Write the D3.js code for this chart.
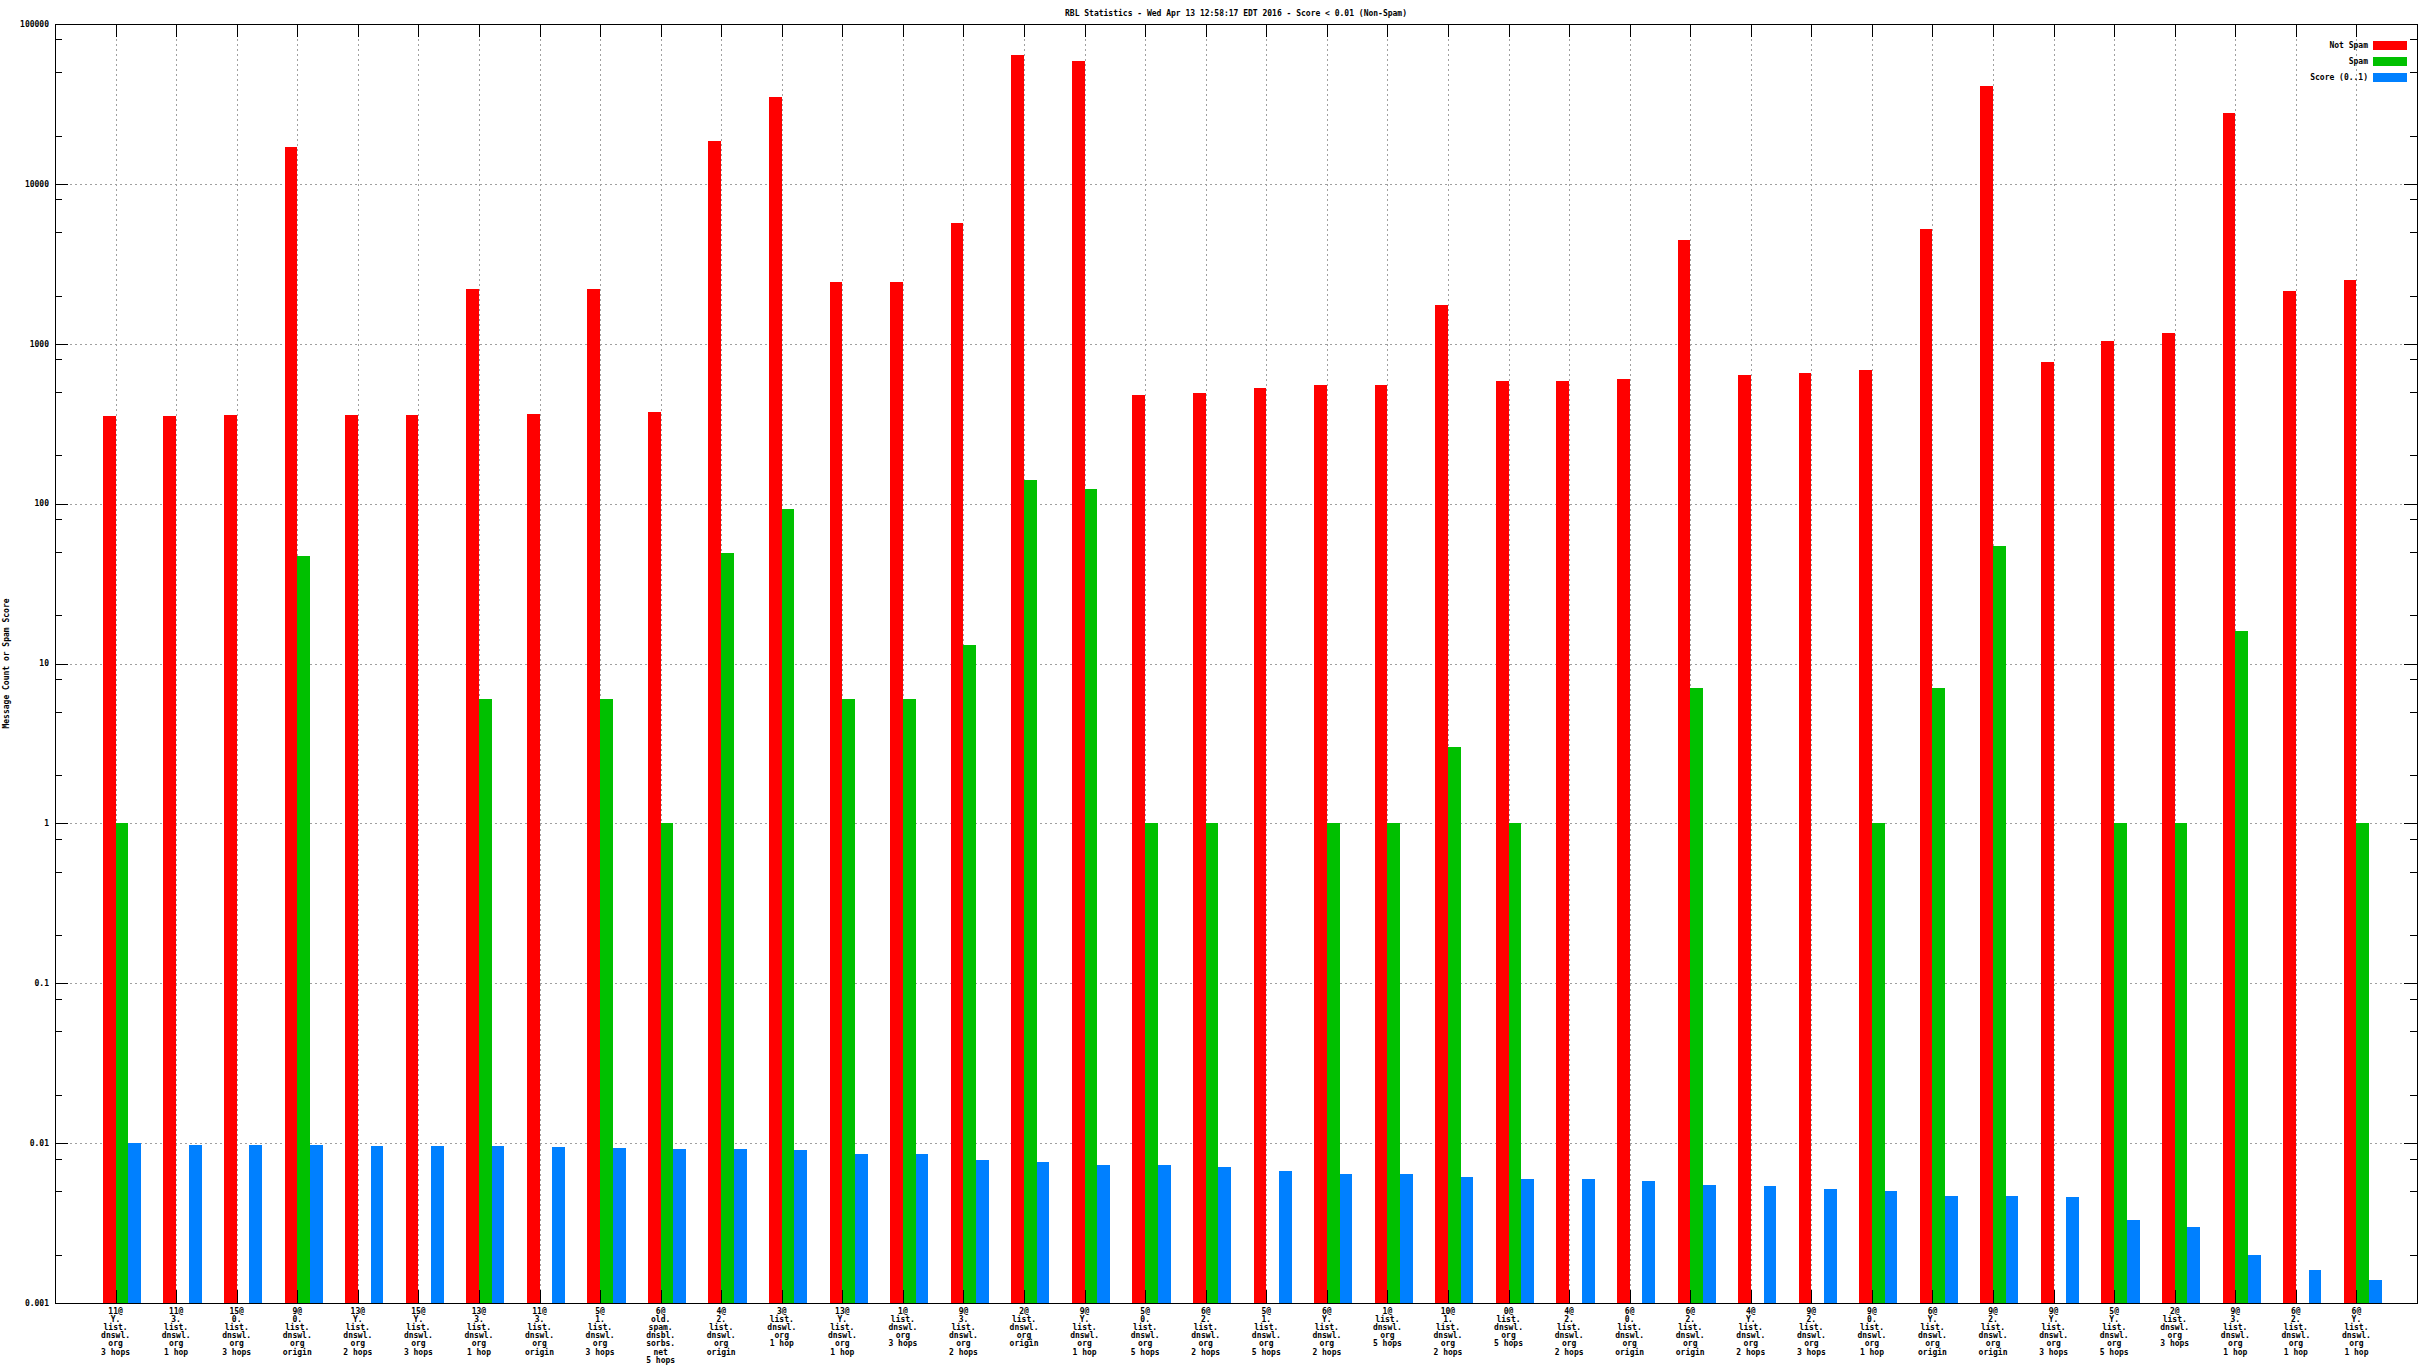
<!DOCTYPE html>
<html>
<head>
<meta charset="utf-8">
<script src="https://cdn.jsdelivr.net/npm/d3@7"></script>
<style>
  html, body { margin: 0; padding: 0; background: #fff; }
  svg text { font-family: "DejaVu Sans Mono", "Liberation Mono", monospace; font-size: 8px; font-weight: bold; fill: #000; }
</style>
</head>
<body>
<svg id="chart" width="2432" height="1368"></svg>
<script>
const title = "RBL Statistics - Wed Apr 13 12:58:17 EDT 2016 - Score < 0.01 (Non-Spam)";
const yLabel = "Message Count or Spam Score";
const seriesNames = ["Not Spam", "Spam", "Score (0..1)"];
const seriesColors = ["#ff0000", "#00c000", "#0080ff"];

const categories = [
  "11@\nY.\nlist.\ndnswl.\norg\n3 hops",
  "11@\n3.\nlist.\ndnswl.\norg\n1 hop",
  "15@\n0.\nlist.\ndnswl.\norg\n3 hops",
  "9@\n0.\nlist.\ndnswl.\norg\norigin",
  "13@\nY.\nlist.\ndnswl.\norg\n2 hops",
  "15@\nY.\nlist.\ndnswl.\norg\n3 hops",
  "13@\n3.\nlist.\ndnswl.\norg\n1 hop",
  "11@\n3.\nlist.\ndnswl.\norg\norigin",
  "5@\n1.\nlist.\ndnswl.\norg\n3 hops",
  "6@\nold.\nspam.\ndnsbl.\nsorbs.\nnet\n5 hops",
  "4@\n2.\nlist.\ndnswl.\norg\norigin",
  "3@\nlist.\ndnswl.\norg\n1 hop",
  "13@\nY.\nlist.\ndnswl.\norg\n1 hop",
  "1@\nlist.\ndnswl.\norg\n3 hops",
  "9@\n3.\nlist.\ndnswl.\norg\n2 hops",
  "2@\nlist.\ndnswl.\norg\norigin",
  "9@\nY.\nlist.\ndnswl.\norg\n1 hop",
  "5@\n0.\nlist.\ndnswl.\norg\n5 hops",
  "6@\n2.\nlist.\ndnswl.\norg\n2 hops",
  "5@\n1.\nlist.\ndnswl.\norg\n5 hops",
  "6@\nY.\nlist.\ndnswl.\norg\n2 hops",
  "1@\nlist.\ndnswl.\norg\n5 hops",
  "10@\n1.\nlist.\ndnswl.\norg\n2 hops",
  "0@\nlist.\ndnswl.\norg\n5 hops",
  "4@\n2.\nlist.\ndnswl.\norg\n2 hops",
  "6@\n0.\nlist.\ndnswl.\norg\norigin",
  "6@\n2.\nlist.\ndnswl.\norg\norigin",
  "4@\nY.\nlist.\ndnswl.\norg\n2 hops",
  "9@\n2.\nlist.\ndnswl.\norg\n3 hops",
  "9@\n0.\nlist.\ndnswl.\norg\n1 hop",
  "6@\nY.\nlist.\ndnswl.\norg\norigin",
  "9@\n2.\nlist.\ndnswl.\norg\norigin",
  "9@\nY.\nlist.\ndnswl.\norg\n3 hops",
  "5@\nY.\nlist.\ndnswl.\norg\n5 hops",
  "2@\nlist.\ndnswl.\norg\n3 hops",
  "9@\n3.\nlist.\ndnswl.\norg\n1 hop",
  "6@\n2.\nlist.\ndnswl.\norg\n1 hop",
  "6@\nY.\nlist.\ndnswl.\norg\n1 hop"
];

const notSpam = [352, 352, 360, 17060, 360, 360, 2190, 364, 2190, 376,
  18660, 34870, 2450, 2450, 5720, 63700, 58300, 480, 491, 525,
  550, 550, 1754, 587, 587, 601, 4475, 642, 657, 687,
  5230, 40800, 767, 1047, 1172, 27900, 2150, 2505];

const spam = [1, null, null, 47, null, null, 6, null, 6, 1,
  49, 92, 6, 6, 13, 141, 123, 1, 1, null,
  1, 1, 3, 1, null, null, 7, null, null, 1,
  7, 54, null, 1, 1, 16, null, 1];

const score = [0.0100, 0.0098, 0.0098, 0.0098, 0.0096, 0.0096, 0.0096, 0.0094, 0.0093, 0.0092,
  0.0092, 0.0091, 0.0086, 0.0086, 0.0078, 0.0076, 0.0073, 0.0073, 0.0071, 0.0067,
  0.0064, 0.0064, 0.0061, 0.0060, 0.0060, 0.0058, 0.0055, 0.0054, 0.0052, 0.0050,
  0.0047, 0.0047, 0.0046, 0.0033, 0.0030, 0.0020, 0.0016, 0.0014];

const yMajor = [0.001, 0.01, 0.1, 1, 10, 100, 1000, 10000, 100000];
const yMajorLabels = ["0.001", "0.01", "0.1", "1", "10", "100", "1000", "10000", "100000"];
const yMinorMult = [2, 5, 8];

(function () {
const svg = d3.select("#chart");
const pLeft = 55, pRight = 2417, pTop = 24, pBottom = 1303;

const x = d3.scaleLinear().domain([-1, categories.length]).range([pLeft, pRight]);
const y = d3.scaleLog().domain([0.001, 100000]).range([pBottom, pTop]);
const bw = 0.21;

// grid
const grid = svg.append("g").attr("stroke", "#a0a0a0").attr("stroke-dasharray", "2,3").attr("shape-rendering", "crispEdges");
yMajor.slice(1, -1).forEach(v => {
  grid.append("line").attr("x1", pLeft).attr("x2", pRight).attr("y1", Math.round(y(v)) + 0.5).attr("y2", Math.round(y(v)) + 0.5);
});
categories.forEach((c, i) => {
  const xi = Math.round(x(i)) + 0.5;
  grid.append("line").attr("x1", xi).attr("x2", xi).attr("y1", pTop).attr("y2", pBottom);
});

// bars
const series = [notSpam, spam, score];
const offsets = [-1, 0, 1];
const bars = svg.append("g").attr("shape-rendering", "crispEdges");
series.forEach((arr, s) => {
  bars.selectAll(null).data(arr.map((v, i) => ({v, i})).filter(d => d.v != null))
    .enter().append("rect")
    .attr("x", d => Math.round(x(d.i + offsets[s] * bw)))
    .attr("width", d => Math.round(x(d.i + (offsets[s] + 1) * bw)) - Math.round(x(d.i + offsets[s] * bw)))
    .attr("y", d => Math.round(y(d.v)))
    .attr("height", d => pBottom - Math.round(y(d.v)))
    .attr("fill", seriesColors[s]);
});

// border
svg.append("rect").attr("x", pLeft + 0.5).attr("y", pTop + 0.5)
  .attr("width", pRight - pLeft).attr("height", pBottom - pTop)
  .attr("fill", "none").attr("stroke", "#000").attr("shape-rendering", "crispEdges");

// y ticks (left and mirrored right)
const ticks = svg.append("g").attr("stroke", "#000").attr("shape-rendering", "crispEdges");
yMajor.forEach(v => {
  const yy = Math.round(y(v)) + 0.5;
  ticks.append("line").attr("x1", pLeft).attr("x2", pLeft + 13).attr("y1", yy).attr("y2", yy);
  ticks.append("line").attr("x1", pRight).attr("x2", pRight - 13).attr("y1", yy).attr("y2", yy);
});
yMajor.slice(0, -1).forEach(v => {
  yMinorMult.forEach(m => {
    const yy = Math.round(y(v * m)) + 0.5;
    ticks.append("line").attr("x1", pLeft).attr("x2", pLeft + 7).attr("y1", yy).attr("y2", yy);
    ticks.append("line").attr("x1", pRight).attr("x2", pRight - 7).attr("y1", yy).attr("y2", yy);
  });
});
// x ticks (bottom and top)
categories.forEach((c, i) => {
  const xi = Math.round(x(i)) + 0.5;
  ticks.append("line").attr("x1", xi).attr("x2", xi).attr("y1", pBottom).attr("y2", pBottom - 13);
  ticks.append("line").attr("x1", xi).attr("x2", xi).attr("y1", pTop).attr("y2", pTop + 13);
});

// y tick labels
svg.append("g").selectAll("text").data(yMajor).enter().append("text")
  .attr("x", pLeft - 6).attr("y", d => y(d)).attr("dy", "0.35em")
  .attr("text-anchor", "end").text((d, i) => yMajorLabels[i]);

// x tick labels
const xl = svg.append("g");
const lineH = 8.2;
categories.forEach((c, i) => {
  const t = xl.append("text").attr("x", x(i)).attr("y", pBottom + 10.5).attr("text-anchor", "middle");
  c.split("\n").forEach((line, k) => {
    t.append("tspan").attr("x", x(i)).attr("y", pBottom + 10.5 + k * lineH).text(line);
  });
});

// title
svg.append("text").attr("x", (pLeft + pRight) / 2).attr("y", 15.5).attr("text-anchor", "middle").text(title);

// y label
svg.append("text").attr("transform", `translate(9,${(pTop + pBottom) / 2}) rotate(-90)`)
  .attr("text-anchor", "middle").text(yLabel);

// legend
const lg = svg.append("g");
seriesNames.forEach((n, s) => {
  const yy = 41 + s * 16;
  lg.append("text").attr("x", 2368).attr("y", yy + 4.5).attr("dy", "0.35em").attr("text-anchor", "end").text(n);
  lg.append("rect").attr("x", 2373).attr("y", yy).attr("width", 34).attr("height", 9).attr("fill", seriesColors[s]);
});
})();
</script>
</body>
</html>
